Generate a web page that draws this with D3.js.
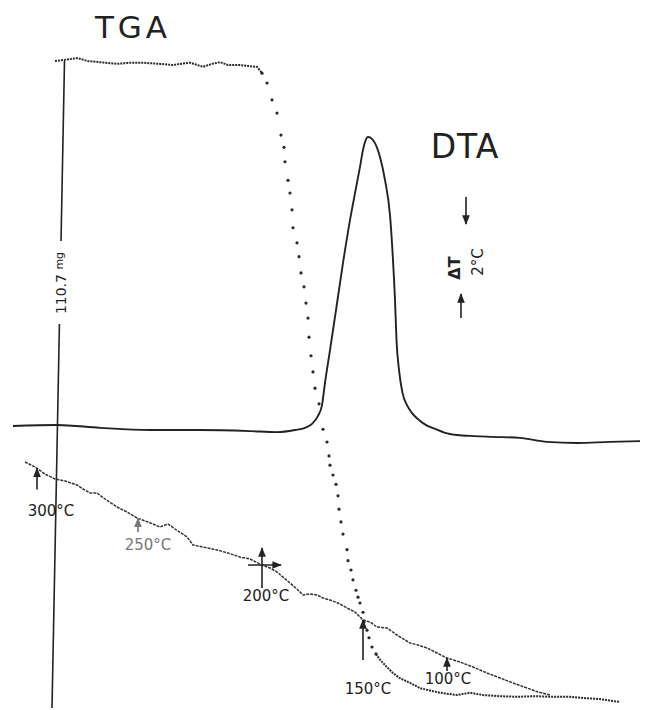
<!DOCTYPE html>
<meta charset="utf-8">
<style>
body { margin: 0; background: #fff; }
text { font-family: "DejaVu Sans", sans-serif; fill: #222; }
</style>
<svg id="svg" width="649" height="710"></svg>
<script src="https://d3js.org/d3.v7.min.js"></script>
<script>
// x = position along the chart paper (mm), TGA in mg, DTA in deg C, pen trace in mm from top
var tgaPlateau = [[11.0,110.7],[13.0,110.9],[15.4,111.2],[17.6,110.7],[20.0,110.5],[23.4,110.2],[26.0,110.4],
  [28.6,110.4],[32.0,110.2],[34.6,110.0],[36.0,110.2],[38.0,110.4],[40.6,109.7],[42.4,110.2],[44.0,110.5],
  [45.6,110.0],[48.0,110.0],[50.0,109.8],[51.4,109.7],[52.4,108.6]];
var tgaDrop = [[52.4,108.6],[53.4,106.9],[54.4,104.0],[55.4,101.7],[56.2,97.9],[56.8,95.8],[57.0,93.3],
  [57.6,90.1],[58.0,87.9],[58.4,85.0],[58.6,81.9],[59.4,79.3],[59.8,76.9],[60.2,74.1],[60.8,71.7],[61.2,68.9],
  [61.6,66.3],[61.8,63.0],[62.2,59.8],[62.6,57.0],[63.0,54.2],[63.8,51.5],[64.6,47.1],[65.4,44.9],[65.8,42.5],
  [66.0,40.9],[66.6,39.2],[67.2,37.6],[67.6,35.6],[67.8,33.3],[68.2,31.1],[68.6,29.0],[69.4,26.3],[69.6,24.4],
  [70.2,22.8],[70.6,21.1],[71.2,19.3],[71.6,18.1],[72.0,17.1],[72.6,15.5],[72.8,13.8],[73.4,12.4],[73.8,11.1],
  [74.4,9.5],[75.2,8.3]];
var tgaTail = [[75.2,8.3],[76.0,7.3],[77.2,6.2],[78.6,5.0],[80.0,4.1],[82.0,3.3],[84.0,2.4],[85.4,2.1],
  [88.0,1.6],[91.4,1.2],[94.0,1.6],[96.6,1.2],[100.0,1.0],[103.4,0.9],[107.0,1.0],[110.0,0.9],[114.0,0.9],
  [116.6,0.7],[120.0,0.5],[124.0,0.0]];
var dta = [[2.6,0.11],[11.4,0.14],[20.0,0.06],[30.0,0.0],[40.0,0.0],[50.0,-0.03],[55.4,-0.06],[59.0,0.0],
  [61.0,0.06],[62.4,0.17],[63.6,0.39],[64.4,0.69],[65.0,1.31],[66.0,2.22],[67.2,3.33],[68.6,4.64],[70.0,5.83],
  [71.0,6.58],[72.0,7.31],[72.6,7.78],[73.0,8.0],[73.6,8.14],[74.2,8.11],[75.0,7.97],[76.0,7.58],[77.0,6.94],
  [78.0,5.97],[78.6,4.72],[79.0,3.61],[79.3,2.50],[79.8,1.67],[80.5,1.03],[81.4,0.69],[82.4,0.47],[83.8,0.28],
  [85.4,0.12],[87.0,0.03],[89.0,-0.08],[91.4,-0.14],[95.0,-0.17],[98.6,-0.19],[104.0,-0.22],[109.4,-0.33],
  [115.4,-0.36],[122.0,-0.33],[128.0,-0.31]];
var tempTrace = [[5.0,92.4],[7.0,93.4],[9.0,94.8],[11.0,95.8],[13.0,96.2],[15.4,97.0],[16.6,97.8],[18.0,98.6],
  [19.4,98.6],[21.0,99.8],[23.4,101.4],[25.4,102.4],[27.4,103.6],[29.6,104.4],[32.0,105.4],[33.6,104.8],
  [35.0,105.8],[37.4,107.4],[38.6,109.0],[40.6,109.4],[43.4,110.0],[45.6,110.6],[48.0,111.4],[50.0,111.8],
  [52.4,113.0],[54.0,113.6],[55.4,114.4],[56.8,115.6],[58.0,116.6],[59.4,117.8],[60.6,119.0],[62.0,118.8],
  [63.4,119.0],[64.6,119.6],[66.0,120.0],[67.6,120.6],[69.4,121.6],[71.0,122.4],[72.6,124.0],[74.0,124.4],
  [75.4,125.4],[77.4,125.6],[79.4,127.0],[82.0,128.6],[83.6,129.0],[85.4,129.6],[87.4,130.6],[89.4,131.6],
  [92.0,132.4],[94.6,133.4],[97.4,134.6],[100.0,135.6],[102.6,136.6],[105.4,137.6],[107.6,138.4],[110.0,139.0]];
var tempLabels = ["300\u00B0C", "250\u00B0C", "200\u00B0C", "150\u00B0C", "100\u00B0C"];
var tempMarkX = [7.4, 27.6, 52.4, 72.6, 89.4];
var sampleMass = 110.7;

var svg = d3.select("svg");
var x = d3.scaleLinear().domain([0, 130]).range([0, 650]);
var yTga = d3.scaleLinear().domain([0, 110.7]).range([702, 61]);
var yDta = d3.scaleLinear().domain([0, 8]).range([430, 142]);
var yPen = d3.scaleLinear().domain([0, 142]).range([0, 710]);

var defs = svg.append("defs");
function head(id, color) {
  defs.append("marker").attr("id", id).attr("viewBox", "0 0 10 10").attr("refX", 9).attr("refY", 5)
    .attr("markerWidth", 6).attr("markerHeight", 6).attr("orient", "auto")
    .append("path").attr("d", "M0,1 L10,5 L0,9 Z").attr("fill", color);
}
head("ah", "#222");
head("ahg", "#777");

// vertical mass reference line (slightly skewed on the scan)
var topP = [x(12.9), yTga(sampleMass)], botP = [x(10.4), 708];
function xAt(y) { return topP[0] + (botP[0] - topP[0]) * (y - topP[1]) / (botP[1] - topP[1]); }
[[topP[1], 241], [324, botP[1]]].forEach(function(s) {
  svg.append("line").attr("x1", xAt(s[0])).attr("y1", s[0]).attr("x2", xAt(s[1])).attr("y2", s[1])
    .attr("stroke", "#222").attr("stroke-width", 1.6);
});
svg.append("text").attr("transform", "translate(" + (xAt(283) + 1) + ",283) rotate(-90)")
  .attr("text-anchor", "middle").attr("dominant-baseline", "central").style("font-size", "14px")
  .text(sampleMass + " ").append("tspan").style("font-size", "11px").attr("dy", "-2").text("mg");

// DTA
var dtaLine = d3.line().x(function(d) { return x(d[0]); }).y(function(d) { return yDta(d[1]); })
  .curve(d3.curveMonotoneX);
svg.append("path").datum(dta).attr("d", dtaLine).attr("fill", "none")
  .attr("stroke", "#222").attr("stroke-width", 1.9);

// temperature pen trace
var penLine = d3.line().x(function(d) { return x(d[0]); }).y(function(d) { return yPen(d[1]); });
svg.append("path").datum(tempTrace).attr("d", penLine).attr("fill", "none")
  .attr("stroke", "#333").attr("stroke-width", 1.5).attr("stroke-dasharray", "3 1");

// TGA
var tgaLine = d3.line().x(function(d) { return x(d[0]); }).y(function(d) { return yTga(d[1]); });
[tgaPlateau, tgaTail].forEach(function(s) {
  svg.append("path").datum(s).attr("d", tgaLine).attr("fill", "none")
    .attr("stroke", "#2a2a2a").attr("stroke-width", 2).attr("stroke-dasharray", "2 1");
});
svg.selectAll(".tgadot").data(tgaDrop).enter().append("circle").attr("class", "tgadot")
  .attr("cx", function(d) { return x(d[0]); }).attr("cy", function(d) { return yTga(d[1]); })
  .attr("r", 1.6).attr("fill", "#2a2a2a");

// temperature markers
var bis = d3.bisector(function(d) { return d[0]; }).left;
function penY(xv) {
  var i = bis(tempTrace, xv); if (i <= 0) return yPen(tempTrace[0][1]);
  var a = tempTrace[i - 1], b = tempTrace[i], t = (xv - a[0]) / (b[0] - a[0]);
  return yPen(a[1] + t * (b[1] - a[1]));
}
var mk = [
  {up: 0, len: 21, lx: 14, ly: 43, c: "#222", m: "ah"},
  {up: 0, len: 14, lx: 10, ly: 27, c: "#777", m: "ahg"},
  {up: 17, len: 40, lx: 4, ly: 31, c: "#222", m: "ah", cross: true},
  {up: 0, len: 40, lx: 5, ly: 69, c: "#222", m: "ah"},
  {up: 0, len: 13, lx: 1, ly: 21, c: "#222", m: "ah"}
];
tempMarkX.forEach(function(xv, i) {
  var px = x(xv), py = penY(xv), o = mk[i];
  var tip = py - o.up;
  svg.append("line").attr("x1", px).attr("y1", tip + o.len).attr("x2", px).attr("y2", tip)
    .attr("stroke", o.c).attr("stroke-width", 1.6).attr("marker-end", "url(#" + o.m + ")");
  if (o.cross) {
    svg.append("line").attr("x1", px - 14).attr("y1", py).attr("x2", px + 19).attr("y2", py)
      .attr("stroke", o.c).attr("stroke-width", 1.6).attr("marker-end", "url(#" + o.m + ")");
  }
  svg.append("text").attr("x", px + o.lx).attr("y", py + o.ly).attr("text-anchor", "middle")
    .attr("dominant-baseline", "central").style("font-size", "15px").style("fill", o.c)
    .text(tempLabels[i]);
});

// titles
svg.append("text").attr("x", 133).attr("y", 27).attr("text-anchor", "middle").attr("dominant-baseline", "central")
  .style("font-size", "31px").style("letter-spacing", "4px").text("TGA");
svg.append("text").attr("x", 465).attr("y", 146).attr("text-anchor", "middle").attr("dominant-baseline", "central")
  .style("font-size", "33px").style("letter-spacing", "1px").text("DTA");

// delta T scale
svg.append("line").attr("x1", 466).attr("y1", 197).attr("x2", 466).attr("y2", 224)
  .attr("stroke", "#222").attr("stroke-width", 1.6).attr("marker-end", "url(#ah)");
svg.append("line").attr("x1", 461).attr("y1", 318).attr("x2", 461).attr("y2", 294)
  .attr("stroke", "#222").attr("stroke-width", 1.6).attr("marker-end", "url(#ah)");
svg.append("text").attr("transform", "translate(454,268) rotate(-90)").attr("text-anchor", "middle")
  .attr("dominant-baseline", "central").style("font-size", "16px").style("font-weight", "bold").text("\u0394T");
svg.append("text").attr("transform", "translate(478,262) rotate(-90)").attr("text-anchor", "middle")
  .attr("dominant-baseline", "central").style("font-size", "15px").text("2\u00B0C");
</script>
